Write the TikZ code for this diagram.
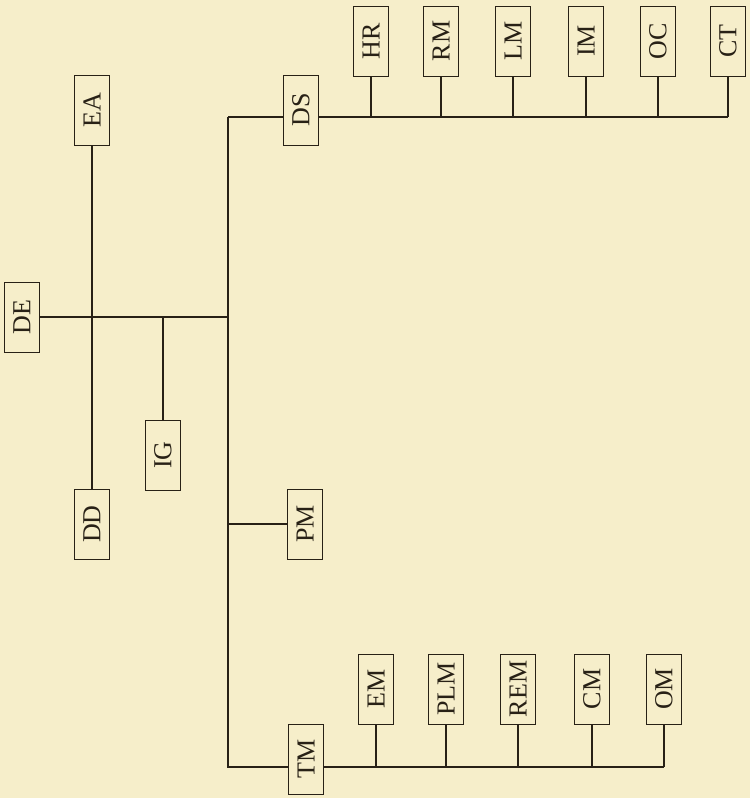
\documentclass[tikz,border=0pt]{standalone}
\usepackage{fontspec}
\setmainfont{Liberation Serif}
\usepackage{xcolor}
\definecolor{colPaper}{RGB}{246,238,202}
\definecolor{colInk}{RGB}{40,33,22}
\usetikzlibrary{positioning}

\begin{document}
\begin{tikzpicture}[x=1pt, y=-1pt,
    unit/.style={draw=colInk, line width=0.9pt, minimum width=35pt, minimum height=70pt,
      inner sep=0pt, text=colInk, font=\fontsize{26}{30}\selectfont},
    link/.style={draw=colInk, line width=1.2pt}]
  \fill[colPaper] (0,0) rectangle (750,798);
  % head and staff
  \node[unit] (DE) at (22,317) {\rotatebox{90}{DE}};
  \node[unit] (EA) at (92,110) {\rotatebox{90}{EA}};
  \node[unit] (DD) at (92,524) {\rotatebox{90}{DD}};
  \node[unit] (IG) at (163,455) {\rotatebox{90}{IG}};
  % departments
  \node[unit] (DS) at (301,110) {\rotatebox{90}{DS}};
  \node[unit] (PM) at (305,524) {\rotatebox{90}{PM}};
  \node[unit] (TM) at (306,759) {\rotatebox{90}{TM}};

  \draw[link] (EA.south) -- (DD.north);
  \draw[link] ([yshift=-7pt]DS.west) -- ++(-55,0) coordinate (trunktop);
  \draw[link] (trunktop) |- ([yshift=-8pt]TM.west) coordinate (tmbus);
  \draw[link] (DE.east) -- (DE.east -| trunktop);
  \draw[link] (IG.north) -- (IG.north |- DE.east);
  \draw[link] (PM.west) -- (PM.west -| trunktop);

  % DS branch
  \coordinate (dsbus) at ([yshift=-7pt]DS.east);
  \foreach \nm/\x in {HR/371, RM/441, LM/513, IM/586, OC/658, CT/728} {
    \node[unit] (\nm) at (\x,41) {\rotatebox{90}{\nm}};
    \draw[link] (\nm.south) -- (\nm.south |- dsbus);
  }
  \draw[link] (dsbus) -- (dsbus -| CT.south);

  % TM branch
  \foreach \nm/\x in {EM/376, PLM/446, REM/518, CM/592, OM/664} {
    \node[unit] (\nm) at (\x,689) {\rotatebox{90}{\nm}};
    \draw[link] (\nm.south) -- (\nm.south |- tmbus);
  }
  \draw[link] (TM.east |- tmbus) -- (tmbus -| OM.south);
\end{tikzpicture}
\end{document}
